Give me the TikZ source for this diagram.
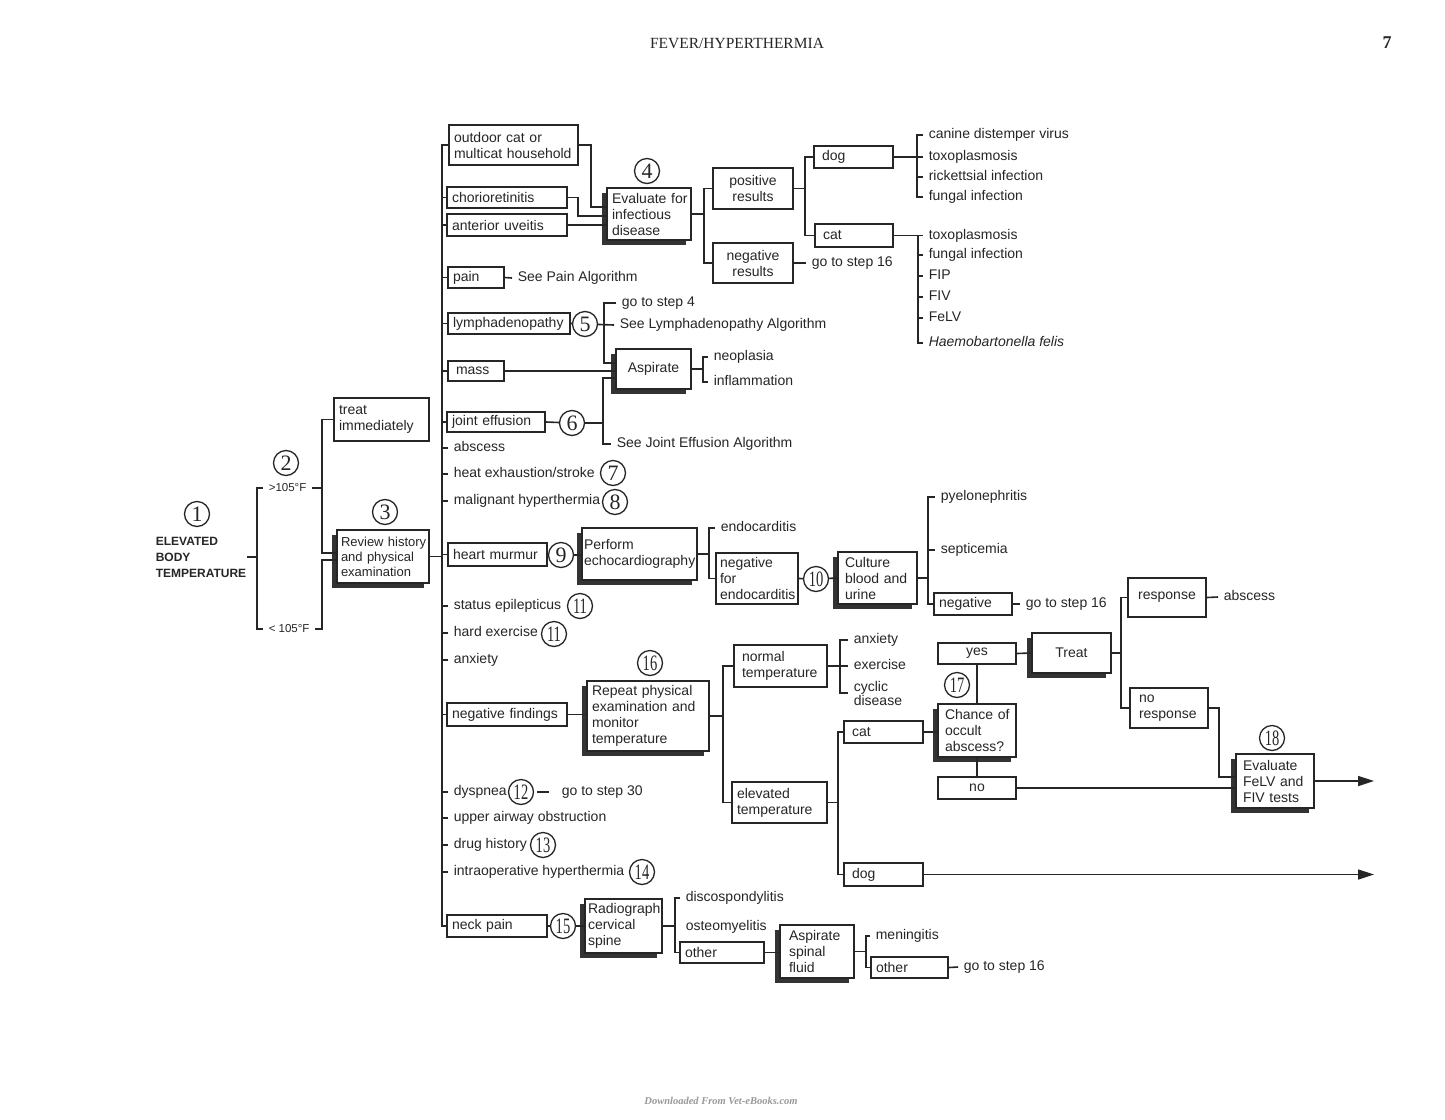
\documentclass[tikz,border=0pt]{standalone}
\usepackage{fontspec}
\usepackage{graphicx}
\setmainfont{Liberation Sans}
\newfontfamily\serifnum{Liberation Serif}
\usetikzlibrary{shadows, arrows.meta}

\newcommand{\txtfont}{\fontsize{14}{16}\selectfont}
\newcommand{\smfont}{\fontsize{13}{15}\selectfont}
\newcommand{\numfont}{\serifnum\fontsize{22}{22}\selectfont}
\newcommand{\nn}[1]{\scalebox{0.66}[1]{#1}}

\begin{document}
\lefthyphenmin=64
\hfuzz=20pt
\begin{tikzpicture}[x=1pt, y=-1pt, line width=1.6pt, color=black!85,
  box/.style={draw, fill=white, line width=1.8pt, inner xsep=5pt, inner ysep=1pt, align=left, font=\txtfont},
  sbox/.style={box, drop shadow={shadow xshift=-5pt, shadow yshift=-5pt, fill=black!80, opacity=1}},
  lbl/.style={anchor=west, inner xsep=5pt, inner ysep=0pt, font=\txtfont, text height=10pt, text depth=3pt},
  num/.style={circle, draw, line width=1.3pt, minimum size=25pt, inner sep=0pt, font=\numfont},
  arr/.style={-{Triangle[length=16pt, width=10pt]}}]
  \fill[white] (0,0) rectangle (1445,1119);
  \useasboundingbox (0,0) rectangle (1445,1119);

  % page head
  \node[font=\serifnum\fontsize{15.5}{16}\selectfont] (title) at (737,43) {FEVER/HYPERTHERMIA};
  \node[font=\serifnum\bfseries\fontsize{18}{18}\selectfont] (page) at (1387,43) {7};
  \node[font=\serifnum\bfseries\itshape\fontsize{10.5}{11}\selectfont, text=black!40] (wm) at (721,1101) {Downloaded From Vet-eBooks.com};

  % start
  \node[num] (c1) at (197,514) {1};
  \node[anchor=west, inner sep=0pt, align=left, font=\bfseries\fontsize{12}{16}\selectfont] (elev) at (155,557) {ELEVATED\\BODY\\TEMPERATURE};
  \node[num] (c2) at (286,463) {2};
  \node[lbl, font=\fontsize{11.5}{13}\selectfont] (gt) at (263,488) {>105\textdegree F};
  \node[lbl, font=\fontsize{11.5}{13}\selectfont] (lt) at (263,629) {<~105\textdegree F};
  \node[box, text width=85pt, minimum height=43pt] (treat) at (381.5,419.5) {treat\\immediately};
  \node[num] (c3) at (385,512) {3};
  \node[sbox, font=\smfont, inner xsep=4pt, text width=84pt, minimum height=53pt] (review) at (383,556.5) {Review~history\\and~physical\\examination};

  % trunk items
  \node[box, text width=119pt, minimum height=40pt] (outdoor) at (513.5,145) {outdoor~cat~or\\multicat~household};
  \node[box, text width=110pt, minimum height=21pt] (chorio) at (507,197.5) {chorioretinitis};
  \node[box, text width=110pt, minimum height=22pt] (uveitis) at (507,225) {anterior~uveitis};
  \node[box, text width=46pt, minimum height=21pt] (pain) at (476,277.5) {pain};
  \node[box, text width=112pt, minimum height=21pt] (lymph) at (509,323.5) {lymphadenopathy};
  \node[box, inner xsep=8pt, text width=40pt, minimum height=20pt] (mass) at (476,371) {mass};
  \node[box, text width=88pt, minimum height=20pt] (joint) at (496,422) {joint~effusion};
  \node[lbl] (abscessa) at (448,448) {abscess};
  \node[lbl] (heat) at (448,474) {heat exhaustion/stroke};
  \node[lbl] (malig) at (448,501) {malignant hyperthermia};
  \node[box, text width=89pt, minimum height=23pt] (heart) at (497.5,554.5) {heart~murmur};
  \node[lbl] (status) at (448,606) {status epilepticus};
  \node[lbl] (hard) at (448,633) {hard exercise};
  \node[lbl] (anxa) at (448,660) {anxiety};
  \node[box, text width=110pt, minimum height=23pt] (findings) at (507,714.5) {negative~findings};
  \node[lbl] (dysp) at (448,792) {dyspnea};
  \node[lbl] (upper) at (448,818) {upper airway obstruction};
  \node[lbl] (drug) at (448,845) {drug history};
  \node[lbl] (intra) at (448,872) {intraoperative hyperthermia};
  \node[box, text width=90pt, minimum height=22pt] (neck) at (497,926) {neck~pain};

  % circled steps
  \node[num] (c4) at (647,171) {4};
  \node[num] (c5) at (585,324) {5};
  \node[num] (c6) at (572,423) {6};
  \node[num] (c7) at (613,473) {7};
  \node[num] (c8) at (615,502) {8};
  \node[num] (c9) at (561,555) {9};
  \node[num] (c10) at (816,579) {\nn{10}};
  \node[num] (c11a) at (580,606) {\nn{11}};
  \node[num] (c11b) at (554,634) {\nn{11}};
  \node[num] (c12) at (521,792) {\nn{12}};
  \node[num] (c13) at (543,845) {\nn{13}};
  \node[num] (c14) at (642,872) {\nn{14}};
  \node[num] (c15) at (563,926) {\nn{15}};
  \node[num] (c16) at (650,663) {\nn{16}};
  \node[num] (c17) at (957,685) {\nn{17}};
  \node[num] (c18) at (1272,738) {\nn{18}};

  % infectious disease
  \node[sbox, text width=74pt, minimum height=52pt] (evalinf) at (649,214) {Evaluate~for\\infectious\\disease};
  \node[box, align=center, text width=70pt, minimum height=41pt] (posres) at (753,188.5) {positive\\results};
  \node[box, align=center, text width=70pt, minimum height=40pt] (negres) at (753,263) {negative\\results};
  \node[lbl] (go16b) at (806,263) {go to step 16};
  \node[box, inner xsep=8pt, text width=63pt, minimum height=22pt] (dog1) at (853.5,157) {dog};
  \node[box, inner xsep=8pt, text width=62pt, minimum height=23pt] (cat1) at (854,235.5) {cat};
  \node[lbl] (cdv) at (923,135) {canine distemper virus};
  \node[lbl] (toxoa) at (923,157) {toxoplasmosis};
  \node[lbl] (rick) at (923,177) {rickettsial infection};
  \node[lbl] (funga) at (923,197) {fungal infection};
  \node[lbl] (toxob) at (923,235.5) {toxoplasmosis};
  \node[lbl] (fungb) at (923,255) {fungal infection};
  \node[lbl] (fip) at (923,276) {FIP};
  \node[lbl] (fiv) at (923,297) {FIV};
  \node[lbl] (felvt) at (923,318) {FeLV};
  \node[lbl] (haemo) at (923,343) {\textit{Haemobartonella felis}};

  % pain, lymph nodes, mass, joints
  \node[lbl] (painalg) at (512,278) {See Pain Algorithm};
  \node[lbl] (go4) at (616,303) {go to step 4};
  \node[lbl] (lymalg) at (614,325) {See Lymphadenopathy Algorithm};
  \node[sbox, align=center, text width=65pt, minimum height=40pt] (aspirate) at (653.5,369) {Aspirate};
  \node[lbl] (neo) at (708,357) {neoplasia};
  \node[lbl] (infl) at (708,382) {inflammation};
  \node[lbl] (jointalg) at (611,444) {See Joint Effusion Algorithm};

  % heart murmur
  \node[sbox, inner xsep=2pt, text width=111pt, minimum height=52pt] (echo) at (639.5,554) {Perform\\echocardiography};
  \node[lbl] (endo) at (715,528) {endocarditis};
  \node[box, inner xsep=4pt, text width=74pt, minimum height=51pt] (negendo) at (757,578.5) {negative\\for\\endocarditis};
  \node[sbox, inner xsep=7pt, text width=65pt, minimum height=52pt] (culture) at (877.5,578) {Culture\\blood~and\\urine};
  \node[lbl] (pyelo) at (935,497) {pyelonephritis};
  \node[lbl] (septi) at (935,550) {septicemia};
  \node[box, text width=68pt, minimum height=22pt] (negcult) at (973,604) {negative};
  \node[lbl] (go16a) at (1020,604) {go to step 16};

  % negative findings
  \node[sbox, text width=112pt, minimum height=70pt] (rptexam) at (648,716) {Repeat~physical\\examination~and\\monitor\\temperature};
  \node[box, inner xsep=8pt, text width=77pt, minimum height=42pt] (normtemp) at (780.5,666) {normal\\temperature};
  \node[box, text width=85pt, minimum height=41pt] (elevtemp) at (779.5,802.5) {elevated\\temperature};
  \node[lbl] (anxb) at (848,640) {anxiety};
  \node[lbl] (exer) at (848,666) {exercise};
  \node[anchor=west, inner xsep=5pt, inner ysep=0pt, align=left, font=\fontsize{14}{14}\selectfont] (cyclic) at (848,693) {cyclic\\disease};
  \node[box, inner xsep=8pt, text width=63pt, minimum height=22pt] (cat2) at (883.5,732) {cat};
  \node[box, inner xsep=8pt, text width=63pt, minimum height=23pt] (dog2) at (883.5,874.5) {dog};
  \node[sbox, inner xsep=7pt, text width=64pt, minimum height=53pt] (chance) at (977,730.5) {Chance~of\\occult\\abscess?};
  \node[box, align=center, text width=68pt, minimum height=21pt] (yes) at (977,653.5) {yes};
  \node[box, align=center, text width=68pt, minimum height=22pt] (no) at (977,788) {no};
  \node[sbox, align=center, text width=69pt, minimum height=40pt] (treatb) at (1071.5,653) {Treat};
  \node[box, align=center, text width=68pt, minimum height=39pt] (response) at (1167,597.5) {response};
  \node[lbl] (abscessb) at (1218,597) {abscess};
  \node[box, inner xsep=9pt, text width=60pt, minimum height=40pt] (noresp) at (1169,708) {no\\response};
  \node[sbox, inner xsep=7pt, text width=64pt, minimum height=54pt] (felv) at (1275,781) {Evaluate\\FeLV~and\\FIV~tests};
  \node[lbl] (go30) at (556,792) {go to step 30};

  % neck pain
  \node[sbox, inner xsep=3pt, text width=71pt, minimum height=54pt] (radio) at (623.5,926) {Radiograph\\cervical\\spine};
  \node[lbl] (disco) at (680,898) {discospondylitis};
  \node[lbl] (osteo) at (680,927) {osteomyelitis};
  \node[box, text width=74pt, minimum height=21pt] (othera) at (722,952.5) {other};
  \node[sbox, inner xsep=9pt, text width=56pt, minimum height=53pt] (spinal) at (817,951.5) {Aspirate\\spinal\\fluid};
  \node[lbl] (mening) at (870,936) {meningitis};
  \node[box, text width=67pt, minimum height=21pt] (otherb) at (909.5,967.5) {other};
  \node[lbl] (go16c) at (958,967) {go to step 16};

  % junctions
  \coordinate (trunk) at (442,0);
  \coordinate (ja) at (257,557);
  \coordinate (jb) at (322,488);
  \coordinate (jc) at (322,560);
  \coordinate (jd) at (704,214);
  \coordinate (je) at (805,188.5);
  \coordinate (jf) at (917,157);
  \coordinate (jg) at (918,235.5);
  \coordinate (jh) at (604,325);
  \coordinate (ji) at (603,423);
  \coordinate (jj) at (703,369);
  \coordinate (jk) at (709,554);
  \coordinate (jl) at (928,578);
  \coordinate (jm) at (723,716);
  \coordinate (jn) at (840,666);
  \coordinate (jo) at (838,802.5);
  \coordinate (jp) at (1121,653);
  \coordinate (jq) at (1219,777);
  \coordinate (jr) at (675,926);
  \coordinate (js) at (866,951.5);
  \coordinate (outa) at (1374,781);
  \coordinate (outb) at (1374,874.5);

  % connectors
  \draw (elev.east) -- (ja);
  \draw (gt.west) -| (ja) |- (lt.west);
  \draw (gt.east) -- (jb);
  \draw (treat.west) -| (jb) |- (review.west |- 0,553);
  \draw (lt.east) -| (jc) -- (review.west |- jc);
  \draw (review.east) -- (review.east -| trunk);
  \draw (outdoor.west) -| (trunk |- neck.west) -- (neck.west);
  \foreach \n in {chorio,uveitis,pain,lymph,mass,joint,abscessa,heat,malig,heart,status,hard,anxa,findings,dysp,upper,drug,intra}
    \draw (\n.west) -- (\n.west -| trunk);

  \draw (outdoor.east) -| (591,207) -- (evalinf.west |- 0,207);
  \draw (chorio.east) -| (578,216) -- (evalinf.west |- 0,216);
  \draw (uveitis.east) -- (evalinf.west |- uveitis.east);
  \draw (evalinf.east) -- (jd);
  \draw (posres.west) -| (jd) |- (negres.west);
  \draw (negres.east) -- (go16b.west);
  \draw (posres.east) -- (je);
  \draw (dog1.west) -| (je) |- (cat1.west);
  \draw (dog1.east) -- (toxoa.west);
  \draw (cdv.west) -| (jf) |- (funga.west);
  \draw (rick.west) -- (rick.west -| jf);
  \draw (cat1.east) -- (toxob.west);
  \draw (jg) |- (haemo.west);
  \foreach \n in {fungb,fip,fiv,felvt}
    \draw (\n.west) -- (\n.west -| jg);

  \draw (pain.east) -- (painalg.west);
  \draw (lymph.east) -- (c5);
  \draw (c5) -- (lymalg.west);
  \draw (go4.west) -| (jh) |- (aspirate.west |- 0,363);
  \draw (mass.east) -- (aspirate.west |- mass.east);
  \draw (joint.east) -- (c6);
  \draw (c6) -- (ji);
  \draw (aspirate.west |- 0,378) -| (ji) |- (jointalg.west);
  \draw (aspirate.east) -- (jj);
  \draw (neo.west) -| (jj) |- (infl.west);

  \draw (heart.east) -- (c9);
  \draw (c9) -- (echo.west |- c9);
  \draw (echo.east) -- (jk);
  \draw (endo.west) -| (jk) |- (negendo.west);
  \draw (negendo.east) -- (c10);
  \draw (c10) -- (culture.west);
  \draw (culture.east) -- (jl);
  \draw (pyelo.west) -| (jl) |- (negcult.west);
  \draw (septi.west) -- (septi.west -| jl);
  \draw (negcult.east) -- (go16a.west);

  \draw (findings.east) -- (rptexam.west |- findings.east);
  \draw (rptexam.east) -- (jm);
  \draw (normtemp.west) -| (jm) |- (elevtemp.west);
  \draw (normtemp.east) -- (exer.west);
  \draw (anxb.west) -| (jn) |- (cyclic.west);
  \draw (elevtemp.east) -- (jo);
  \draw (cat2.west) -| (jo) |- (dog2.west);
  \draw (cat2.east) -- (chance.west |- cat2.east);
  \draw (chance.north) -- (yes.south);
  \draw (chance.south) -- (no.north);
  \draw (yes.east) -- (treatb.west);
  \draw (treatb.east) -- (jp);
  \draw (response.west) -| (jp) |- (noresp.west);
  \draw (response.east) -- (abscessb.west);
  \draw (noresp.east) -| (jq) -- (felv.west |- jq);
  \draw (no.east) -- (felv.west |- no.east);
  \draw[arr] (felv.east) -- (outa);
  \draw[arr] (dog2.east) -- (outb);
  \draw ([xshift=3pt]c12.east) -- ([xshift=-7pt]go30.west);

  \draw (neck.east) -- (c15);
  \draw (c15) -- (radio.west |- c15);
  \draw (radio.east) -- (jr);
  \draw (disco.west) -| (jr) |- (othera.west);
  \draw (othera.east) -- (spinal.west |- othera.east);
  \draw (spinal.east) -- (js);
  \draw (mening.west) -| (js) |- (otherb.west);
  \draw (otherb.east) -- (go16c.west);
\end{tikzpicture}
\end{document}
